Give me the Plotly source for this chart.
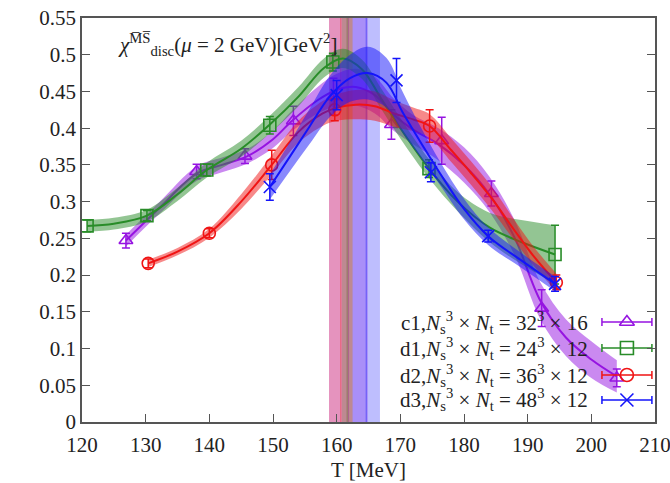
import plotly.graph_objects as go

# ---------------- data ----------------
# lattice ensembles: temperature [MeV], disconnected susceptibility, error
c1_T = [126.9, 138.0, 145.6, 153.2, 159.5, 168.6, 176.5, 184.3, 192.2, 204.0]
c1_y = [0.247, 0.341, 0.362, 0.410, 0.443, 0.405, 0.383, 0.311, 0.155, 0.060]
c1_e = [0.010, 0.010, 0.010, 0.020, 0.025, 0.020, 0.032, 0.017, 0.025, 0.012]

d1_T = [120.8, 130.2, 139.6, 149.5, 159.4, 174.5, 194.3]
d1_y = [0.267, 0.281, 0.343, 0.404, 0.490, 0.345, 0.228]
d1_e = [0.008, 0.007, 0.008, 0.012, 0.012, 0.012, 0.040]

d2_T = [130.4, 140.0, 149.8, 159.7, 174.6, 194.5]
d2_y = [0.216, 0.257, 0.350, 0.425, 0.403, 0.190]
d2_e = [0.006, 0.006, 0.020, 0.015, 0.022, 0.010]

d3_T = [149.5, 160.0, 169.4, 174.8, 183.8, 194.3]
d3_y = [0.320, 0.445, 0.465, 0.340, 0.253, 0.188]
d3_e = [0.018, 0.020, 0.030, 0.013, 0.008, 0.010]

# smooth fits: nodes, central value, half-width of the error band
c1_fit_T = [126.9, 132, 138, 142, 146, 150, 153, 157, 160, 163, 166, 169, 172, 176, 180, 184, 188, 192, 196, 200, 204]
c1_fit_y = [0.247, 0.290, 0.338, 0.350, 0.362, 0.385, 0.410, 0.438, 0.452, 0.456, 0.445, 0.418, 0.398, 0.378, 0.350, 0.310, 0.250, 0.165, 0.115, 0.085, 0.062]
c1_fit_e = [0.008, 0.008, 0.010, 0.010, 0.010, 0.012, 0.014, 0.018, 0.022, 0.025, 0.025, 0.022, 0.020, 0.022, 0.024, 0.024, 0.024, 0.025, 0.025, 0.025, 0.022]

d1_fit_T = [120.8, 125, 130.2, 135, 139.6, 145, 149.5, 154, 158, 161, 164, 167, 170, 174.5, 179, 184, 189, 194.3]
d1_fit_y = [0.267, 0.270, 0.281, 0.310, 0.343, 0.372, 0.405, 0.443, 0.482, 0.495, 0.480, 0.440, 0.400, 0.345, 0.300, 0.265, 0.245, 0.228]
d1_fit_e = [0.008, 0.008, 0.008, 0.009, 0.010, 0.011, 0.012, 0.013, 0.013, 0.013, 0.013, 0.014, 0.014, 0.013, 0.013, 0.020, 0.030, 0.040]

d2_fit_T = [130.4, 135, 140, 145, 149.8, 154, 157.8, 160, 163, 166, 169, 172, 174.6, 178, 181, 184.3, 188, 191, 194.5]
d2_fit_y = [0.216, 0.232, 0.257, 0.300, 0.350, 0.395, 0.420, 0.428, 0.432, 0.430, 0.420, 0.412, 0.403, 0.370, 0.340, 0.305, 0.260, 0.225, 0.190]
d2_fit_e = [0.005, 0.005, 0.006, 0.010, 0.013, 0.015, 0.017, 0.018, 0.020, 0.020, 0.018, 0.016, 0.016, 0.016, 0.016, 0.016, 0.014, 0.013, 0.012]

d3_fit_T = [149.5, 152.7, 155.8, 158.9, 162.1, 164.9, 167.8, 170.4, 173.6, 176.2, 180, 183.8, 189, 194.3]
d3_fit_y = [0.320, 0.362, 0.403, 0.443, 0.468, 0.475, 0.462, 0.421, 0.375, 0.339, 0.290, 0.253, 0.220, 0.188]
d3_fit_e = [0.017, 0.020, 0.024, 0.028, 0.032, 0.036, 0.034, 0.028, 0.020, 0.016, 0.014, 0.012, 0.010, 0.010]

# pseudo-critical temperature bands [MeV]: low, centre, high
c1_Tpc = [158.8, 161.85, 164.9]
d1_Tpc = [160.8, 161.65, 162.5]
d2_Tpc = [158.8, 160.65, 162.5]
d3_Tpc = [162.5, 164.65, 166.8]

labels = [
    "c1,<i>N</i><sub>s</sub><sup>3</sup> × <i>N</i><sub>t</sub> = 32<sup>3</sup> × 16",
    "d1,<i>N</i><sub>s</sub><sup>3</sup> × <i>N</i><sub>t</sub> = 24<sup>3</sup> × 12",
    "d2,<i>N</i><sub>s</sub><sup>3</sup> × <i>N</i><sub>t</sub> = 36<sup>3</sup> × 12",
    "d3,<i>N</i><sub>s</sub><sup>3</sup> × <i>N</i><sub>t</sub> = 48<sup>3</sup> × 12",
]

x_ticks = [120, 130, 140, 150, 160, 170, 180, 190, 200, 210]

# ---------------- styling ----------------
FONT = "Liberation Serif"
INK = "#222"
series = [
    dict(T=c1_T, y=c1_y, e=c1_e, fT=c1_fit_T, fy=c1_fit_y, fe=c1_fit_e, pc=c1_Tpc,
         rgb=(150, 20, 225), symbol="triangle-up-open", band_a=0.28),
    dict(T=d1_T, y=d1_y, e=d1_e, fT=d1_fit_T, fy=d1_fit_y, fe=d1_fit_e, pc=d1_Tpc,
         rgb=(40, 140, 40), symbol="square-open", band_a=0.28),
    dict(T=d2_T, y=d2_y, e=d2_e, fT=d2_fit_T, fy=d2_fit_y, fe=d2_fit_e, pc=d2_Tpc,
         rgb=(240, 20, 20), symbol="circle-open", band_a=0.25),
    dict(T=d3_T, y=d3_y, e=d3_e, fT=d3_fit_T, fy=d3_fit_y, fe=d3_fit_e, pc=d3_Tpc,
         rgb=(20, 20, 250), symbol="x-thin-open", band_a=0.28),
]


def rgba(rgb, a):
    return "rgba(%d,%d,%d,%.2f)" % (rgb[0], rgb[1], rgb[2], a)


fig = go.Figure()
shapes = []

for s in series:
    # vertical T_pc band with its central line
    lo, mid, hi = s["pc"]
    shapes.append(dict(type="rect", xref="x", yref="y", x0=lo, x1=hi, y0=0, y1=0.55,
                       fillcolor=rgba(s["rgb"], s["band_a"]), line_width=0, layer="below"))
    shapes.append(dict(type="line", xref="x", yref="y", x0=mid, x1=mid, y0=0, y1=0.55,
                       line=dict(color=rgba(s["rgb"], 0.40), width=1.2), layer="below"))

for s in series:
    col = rgba(s["rgb"], 1)
    lower = [v - d for v, d in zip(s["fy"], s["fe"])]
    upper = [v + d for v, d in zip(s["fy"], s["fe"])]
    fig.add_trace(go.Scatter(x=s["fT"], y=lower, mode="lines",
                             line=dict(width=0, shape="spline", color=col),
                             showlegend=False, hoverinfo="skip"))
    fig.add_trace(go.Scatter(x=s["fT"], y=upper, mode="lines", fill="tonexty",
                             fillcolor=rgba(s["rgb"], 0.5),
                             line=dict(width=0, shape="spline", color=col),
                             showlegend=False, hoverinfo="skip"))
    fig.add_trace(go.Scatter(x=s["fT"], y=s["fy"], mode="lines",
                             line=dict(width=2, shape="spline", color=col),
                             showlegend=False, hoverinfo="skip"))
    fig.add_trace(go.Scatter(x=s["T"], y=s["y"], mode="markers",
                             marker=dict(symbol=s["symbol"], size=12, color=col,
                                         line=dict(width=1.6, color=col)),
                             error_y=dict(type="data", array=s["e"], color=col,
                                          thickness=1.5, width=4),
                             showlegend=False))

# key: label text on the left, sample with error bar on the right
key_rows = [0.2475, 0.183, 0.1163, 0.0545]
for s, lab, ky in zip(series, labels, key_rows):
    col = rgba(s["rgb"], 1)
    fig.add_trace(go.Scatter(x=[0.951], y=[ky], xaxis="x2", yaxis="y2", mode="markers",
                             marker=dict(symbol=s["symbol"], size=13, color=col,
                                         line=dict(width=1.6, color=col)),
                             error_x=dict(type="data", array=[0.0436], color=col,
                                          thickness=1.5, width=4),
                             showlegend=False, hoverinfo="skip"))
    fig.add_annotation(x=0.887, y=ky, xref="x2", yref="y2", text=lab, showarrow=False,
                       xanchor="right", yanchor="middle",
                       font=dict(family=FONT, size=21, color=INK))

fig.add_annotation(x=0.06, y=0.975, xref="paper", yref="paper", xanchor="left", yanchor="top",
                   showarrow=False,
                   text="<i>χ</i><sup>M̅S̅</sup><sub>disc</sub>(<i>μ</i> = 2 GeV)[GeV<sup>2</sup>]",
                   font=dict(family=FONT, size=21, color=INK))

axis_common = dict(showgrid=False, zeroline=False, ticks="inside", ticklen=8,
                   tickwidth=1.2, tickcolor="#555", linecolor="#555", linewidth=1.5,
                   ticklabeloverflow="allow",
                   tickfont=dict(family=FONT, size=21, color=INK))

fig.update_layout(
    width=670, height=483,
    margin=dict(l=82, r=15, t=18, b=61, autoexpand=False),
    font=dict(family=FONT, color=INK),
    paper_bgcolor="white", plot_bgcolor="white",
    shapes=shapes,
    xaxis=dict(range=[120, 210], tickvals=x_ticks, mirror=True, ticklabelstandoff=3,
               title=dict(text="T [MeV]", font=dict(family=FONT, size=21, color=INK),
                          standoff=6),
               **axis_common),
    yaxis=dict(range=[0, 0.55], dtick=0.05, tick0=0, mirror="ticks", **axis_common),
    xaxis2=dict(overlaying="x", range=[0, 1], visible=False),
    yaxis2=dict(overlaying="y", range=[0, 1], visible=False),
    showlegend=False,
)

fig.write_html("out.html")
